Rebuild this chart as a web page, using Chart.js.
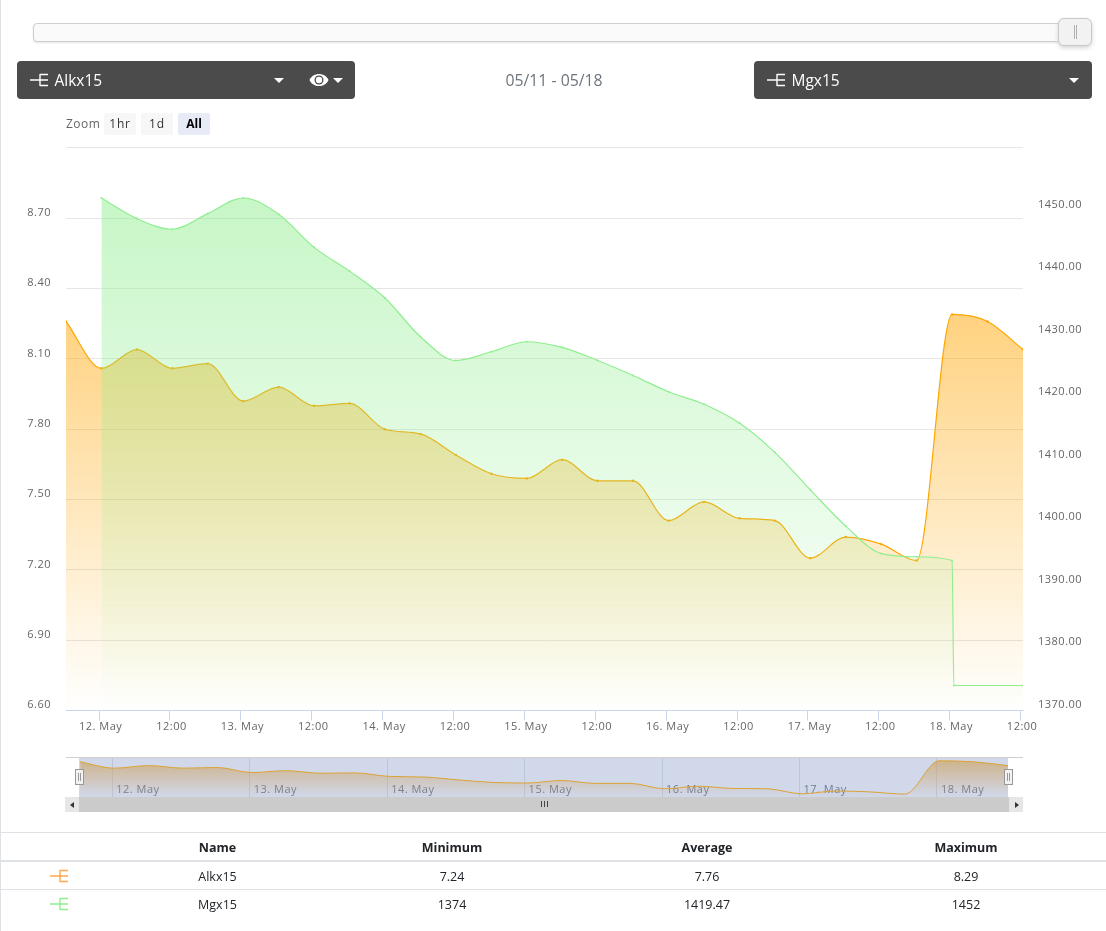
<!DOCTYPE html>
<html>
<head>
<meta charset="utf-8">
<title>Alkx15 / Mgx15</title>
<script src="https://cdn.jsdelivr.net/npm/chart.js@4"></script>
<style>
    html, body { margin: 0; padding: 0; background: #fff; }
    body { position: relative; width: 1106px; height: 931px; overflow: hidden; font-family: "Open Sans", sans-serif; }
    .abs { position: absolute; }
    #leftEdge { left: 0; top: 0; width: 1px; height: 931px; background: #dee2e6; }

    #track { left: 33px; top: 23px; width: 1034px; height: 17px; background: #fafafa; border: 1px solid #cfcfcf; border-radius: 4px; box-shadow: 0 1px 2px #e4e4e4; }
    #thumb { left: 1058px; top: 18px; width: 32px; height: 26px; background: #f2f2f2; border: 1px solid #c8c8c8; border-radius: 6px; box-shadow: 0 2px 4px #d4d4d4; }
    #thumb::before, #thumb::after { content: ""; position: absolute; top: 6px; width: 1px; height: 14px; background: #b0b0b0; }
    #thumb::before { left: 15px; }
    #thumb::after { left: 17px; }

    .picker { top: 61px; height: 38px; width: 338px; background: #4a4b4a; border-radius: 4px; color: #fff; font-size: 15.5px; line-height: 38px; }
    .picker .name { position: absolute; left: 37.5px; top: 0; }
    .picker svg { position: absolute; left: 13px; top: 11px; }
    .caret { position: absolute; top: 17px; width: 0; height: 0; border-left: 5px solid transparent; border-right: 5px solid transparent; border-top: 5px solid #fff; }
    #dateRange { left: 454px; top: 69px; width: 200px; text-align: center; color: #6c757d; font-size: 15.8px; line-height: 22px; }

    #zoomLabel { left: 66px; top: 115px; color: #666; font-size: 12px; line-height: 18px; letter-spacing: 0.5px; }
    .zoomBtn { top: 113px; width: 32px; height: 22px; line-height: 21px; background: #f7f7f7; border-radius: 2px; color: #333; font-size: 12px; text-align: center; letter-spacing: 0.8px; }
    .zoomBtn.on { background: #e6ebf5; color: #000; font-weight: 700; letter-spacing: 0; }

    #chartCanvas { left: 0; top: 0; }
    #navLine { left: 66px; top: 757px; width: 957px; height: 1px; background: #cfcfcf; }
    #navCanvas { left: 79px; top: 758px; background: #d1d8ea; }
    .navHandle { top: 769px; width: 7px; height: 14px; background: #f2f2f2; border: 1px solid #999; }
    .navHandle::before, .navHandle::after { content: ""; position: absolute; top: 3px; width: 1px; height: 8px; background: #999; }
    .navHandle::before { left: 2px; }
    .navHandle::after { left: 4px; }
    #scrollTrack { left: 65px; top: 797px; width: 958px; height: 15px; background: #cbcbcb; }
    .scrollBtn { top: 797px; width: 14px; height: 15px; background: #e6e6e6; }
    .scrollBtn i { position: absolute; top: 5px; width: 0; height: 0; border-top: 3px solid transparent; border-bottom: 3px solid transparent; }
    #grip { left: 541px; top: 801px; width: 7px; height: 6px; background: repeating-linear-gradient(90deg, #444 0 1px, transparent 1px 3px); }

    #stats { left: 1px; top: 832px; width: 1105px; border-collapse: collapse; font-size: 12.5px; color: #212529; table-layout: fixed; }
    #stats th { height: 25px; padding: 2px 0 0; border-top: 1px solid #dee2e6; border-bottom: 2px solid #dee2e6; font-weight: 700; text-align: center; }
    #stats td { height: 25px; padding: 2px 0 0; border-bottom: 1px solid #dee2e6; text-align: center; }
    #stats tr:last-child td { border-bottom: 0; }
</style>
</head>
<body>
<div class="abs" id="leftEdge"></div>

<canvas class="abs" id="chartCanvas" width="1106" height="750"></canvas>

<div class="abs" id="track"></div>
<div class="abs" id="thumb"></div>

<div class="abs picker" style="left:17px">
    <svg width="20" height="16" viewBox="0 0 20 16"><path d="M0 8H18M10 2V14M10 2.5H18M10 13.500H18" stroke="#fff" stroke-width="1.400" fill="none"/></svg>
    <span class="name">Alkx15</span>
    <span class="caret" style="left:257px"></span>
    <svg style="left:292px;top:11px" width="20" height="16" viewBox="0 0 20 16"><path d="M0.500 8C4 0 16 0 19.500 8C16 16 4 16 0.500 8Z" fill="#fff"/><circle cx="10" cy="8" r="4.500" fill="#4a4b4a"/><circle cx="10" cy="8" r="3.200" fill="#fff"/></svg>
    <span class="caret" style="left:316px"></span>
</div>
<div class="abs" id="dateRange">05/11 - 05/18</div>
<div class="abs picker" style="left:754px">
    <svg width="20" height="16" viewBox="0 0 20 16"><path d="M0 8H18M10 2V14M10 2.5H18M10 13.500H18" stroke="#fff" stroke-width="1.400" fill="none"/></svg>
    <span class="name">Mgx15</span>
    <span class="caret" style="left:315px"></span>
</div>

<div class="abs" id="zoomLabel">Zoom</div>
<div class="abs zoomBtn" style="left:104px">1hr</div>
<div class="abs zoomBtn" style="left:141px">1d</div>
<div class="abs zoomBtn on" style="left:178px">All</div>

<div class="abs" id="navLine"></div>
<canvas class="abs" id="navCanvas" width="929" height="39"></canvas>
<div class="abs navHandle" style="left:75px"></div>
<div class="abs navHandle" style="left:1004px"></div>
<div class="abs" id="scrollTrack"></div>
<div class="abs scrollBtn" style="left:65px"><i style="left:5px;border-right:4px solid #333"></i></div>
<div class="abs scrollBtn" style="left:1009px"><i style="left:6px;border-left:4px solid #333"></i></div>
<div class="abs" id="grip"></div>

<table class="abs" id="stats">
    <colgroup><col style="width:118px"><col style="width:197px"><col style="width:272px"><col style="width:238px"><col></colgroup>
    <thead><tr id="statsHead"></tr></thead>
    <tbody id="statsBody"></tbody>
</table>

<script>
// x values are hours counted from 12 May 00:00
const alkxHours = [-5.6, 0.4, 6.4, 12.4, 18.4, 24.4, 30.4, 36.4, 42.4, 48.4, 54.4, 60.4, 66.4, 72.4,
    78.4, 84.4, 90.4, 96.4, 102.4, 108.4, 114.4, 120.4, 126.4, 132.4, 138.4, 144.4, 150.4, 156.4];
const alkxValues = [8.26, 8.06, 8.14, 8.06, 8.08, 7.92, 7.98, 7.90, 7.91, 7.80, 7.78, 7.69, 7.61, 7.59,
    7.67, 7.58, 7.58, 7.41, 7.49, 7.42, 7.41, 7.25, 7.34, 7.31, 7.24, 8.29, 8.26, 8.14];

const mgxHours = [0.4, 6.4, 12.4, 18.4, 24.4, 30.4, 36.4, 42.4, 48.4, 54.4, 60.4, 66.4, 72.4, 78.4,
    84.4, 90.4, 96.4, 102.4, 108.4, 114.4, 120.4, 126.4, 132.4, 138.4, 144.4, 144.7, 156.4];
const mgxValues = [1452, 1448.7, 1447, 1449.5, 1452, 1449.4, 1444.1, 1440.3, 1436, 1429.8, 1426, 1427.4,
    1429, 1428.1, 1426, 1423.6, 1421, 1419, 1416, 1411.3, 1405.3, 1399.5, 1395.1, 1394.6, 1394, 1374, 1374];

const xTickHours = [0, 12, 24, 36, 48, 60, 72, 84, 96, 108, 120, 132, 144, 156];
const xTickLabels = ['12. May', '12:00', '13. May', '12:00', '14. May', '12:00', '15. May', '12:00',
    '16. May', '12:00', '17. May', '12:00', '18. May', '12:00'];
const navTickHours = [0, 24, 48, 72, 96, 120, 144];
const navTickLabels = ['12. May', '13. May', '14. May', '15. May', '16. May', '17. May', '18. May'];

const leftTicks = [6.6, 6.9, 7.2, 7.5, 7.8, 8.1, 8.4, 8.7, 9.0];
const leftLabels = ['6.60', '6.90', '7.20', '7.50', '7.80', '8.10', '8.40', '8.70', ''];
const rightTicks = [1370, 1380, 1390, 1400, 1410, 1420, 1430, 1440, 1450, 1460];
const rightLabels = ['1370.00', '1380.00', '1390.00', '1400.00', '1410.00', '1420.00', '1430.00', '1440.00', '1450.00', ''];

const statColumns = ['Name', 'Minimum', 'Average', 'Maximum'];
const statNames = ['Alkx15', 'Mgx15'];
const statMin = ['7.24', '1374'];
const statAvg = ['7.76', '1419.47'];
const statMax = ['8.29', '1452'];
const statColors = ['#ffa64d', '#90ee90'];

const tickFont = { family: '"Open Sans", sans-serif', size: 11 };
const tickColor = '#666666';

function toPoints(xs, ys) {
    return xs.map(function (x, i) { return { x: x, y: ys[i] }; });
}

// vertical fade from the series' highest value down to the plot bottom
function fadeFill(rgb, alpha, axisId, values) {
    return function (context) {
        let chart = context.chart;
        if (!chart.chartArea) return 'transparent';
        let top = chart.scales[axisId].getPixelForValue(Math.max.apply(null, values));
        let g = chart.ctx.createLinearGradient(0, top, 0, chart.chartArea.bottom);
        g.addColorStop(0, 'rgba(' + rgb + ',' + alpha + ')');
        g.addColorStop(1, 'rgba(' + rgb + ',0)');
        return g;
    };
}

function fixedTicks(values) {
    return function (scale) {
        scale.ticks = values.map(function (v) { return { value: v }; });
    };
}

// tick labels are a little wider than the font's default advance
const spacedLabels = {
    id: 'spacedLabels',
    beforeDraw: function (chart) { chart.ctx.letterSpacing = '0.5px'; }
};

// Mgx15 comes first so its fill lies over the Alkx15 one
new Chart(document.getElementById('chartCanvas'), {
    type: 'line',
    plugins: [spacedLabels],
    data: {
        datasets: [{
            label: 'Mgx15',
            data: toPoints(mgxHours, mgxValues),
            yAxisID: 'yRight',
            borderColor: '#90ee90',
            borderWidth: 1.2,
            pointRadius: 1,
            pointBackgroundColor: '#90ee90',
            pointBorderWidth: 0,
            cubicInterpolationMode: 'monotone',
            fill: 'start',
            backgroundColor: fadeFill('144,238,144', 0.5, 'yRight', mgxValues)
        }, {
            label: 'Alkx15',
            data: toPoints(alkxHours, alkxValues),
            yAxisID: 'yLeft',
            borderColor: '#ffa500',
            borderWidth: 1.2,
            pointRadius: 1.2,
            pointBackgroundColor: '#ffa500',
            pointBorderWidth: 0,
            cubicInterpolationMode: 'monotone',
            fill: 'start',
            backgroundColor: fadeFill('255,165,0', 0.5, 'yLeft', alkxValues)
        }]
    },
    options: {
        responsive: false,
        animation: false,
        layout: { padding: { top: 147.99, left: 0, right: 0, bottom: 0 } },
        plugins: { legend: { display: false }, tooltip: { enabled: false } },
        scales: {
            x: {
                type: 'linear',
                min: -5.6,
                max: 156.4,
                afterBuildTicks: fixedTicks(xTickHours),
                afterFit: function (scale) { scale.height = 39.5; },
                border: { color: '#ccd6eb' },
                grid: { drawOnChartArea: false, tickLength: 10, tickColor: '#ccd6eb' },
                ticks: {
                    autoSkip: false,
                    maxRotation: 0,
                    font: tickFont,
                    color: tickColor,
                    padding: 0,
                    labelOffset: 1.5,
                    callback: function (value, index) { return xTickLabels[index]; }
                }
            },
            yLeft: {
                position: 'left',
                min: 6.6,
                max: 9,
                afterBuildTicks: fixedTicks(leftTicks),
                afterFit: function (scale) { scale.width = 66; },
                border: { display: false },
                grid: { color: '#e6e6e6', drawTicks: false },
                ticks: {
                    autoSkip: false,
                    font: tickFont,
                    color: tickColor,
                    padding: 15,
                    labelOffset: -5.5,
                    callback: function (value, index) { return leftLabels[index]; }
                }
            },
            yRight: {
                position: 'right',
                min: 1370,
                max: 1460,
                afterBuildTicks: fixedTicks(rightTicks),
                afterFit: function (scale) { scale.width = 83; },
                border: { display: false },
                grid: { display: false, drawTicks: false },
                ticks: {
                    autoSkip: false,
                    font: tickFont,
                    color: tickColor,
                    padding: 15,
                    labelOffset: -6,
                    callback: function (value, index) { return rightLabels[index]; }
                }
            }
        }
    }
});

// small overview chart under the main plot, its date labels sit inside the plot
new Chart(document.getElementById('navCanvas'), {
    type: 'line',
    plugins: [spacedLabels],
    data: {
        datasets: [{
            data: toPoints(alkxHours, alkxValues),
            yAxisID: 'y',
            borderColor: '#dca233',
            borderWidth: 1,
            pointRadius: 0,
            cubicInterpolationMode: 'monotone',
            fill: 'start',
            backgroundColor: fadeFill('205,160,90', 0.65, 'y', alkxValues)
        }]
    },
    options: {
        responsive: false,
        animation: false,
        layout: { padding: 0 },
        plugins: { legend: { display: false }, tooltip: { enabled: false } },
        scales: {
            x: {
                type: 'linear',
                position: { y: 7.59 },
                min: -5.8,
                max: 156.4,
                afterBuildTicks: fixedTicks(navTickHours),
                border: { display: false },
                grid: { color: '#bdc5d8', drawTicks: false },
                ticks: {
                    autoSkip: false,
                    maxRotation: 0,
                    align: 'start',
                    font: tickFont,
                    color: '#6f7c94',
                    padding: 0,
                    labelOffset: 4,
                    callback: function (value, index) { return navTickLabels[index]; }
                }
            },
            y: { display: false, min: 7.15, max: 8.38 }
        }
    }
});

// statistics table
const headRow = document.getElementById('statsHead');
headRow.appendChild(document.createElement('th'));
statColumns.forEach(function (name) {
    let th = document.createElement('th');
    th.textContent = name;
    headRow.appendChild(th);
});
const body = document.getElementById('statsBody');
statNames.forEach(function (name, i) {
    let tr = document.createElement('tr');
    let icon = '<svg width="20" height="16" viewBox="0 0 20 16" style="display:block;margin:-2px 0 0 49px"><path d="M0 8H18M10 2V14M10 2.5H18M10 13.500H18" stroke="' + statColors[i] + '" stroke-width="1.400" fill="none"/></svg>';
    tr.innerHTML = '<td>' + icon + '</td><td>' + name + '</td><td>' + statMin[i] + '</td><td>' + statAvg[i] + '</td><td>' + statMax[i] + '</td>';
    body.appendChild(tr);
});
</script>
</body>
</html>
